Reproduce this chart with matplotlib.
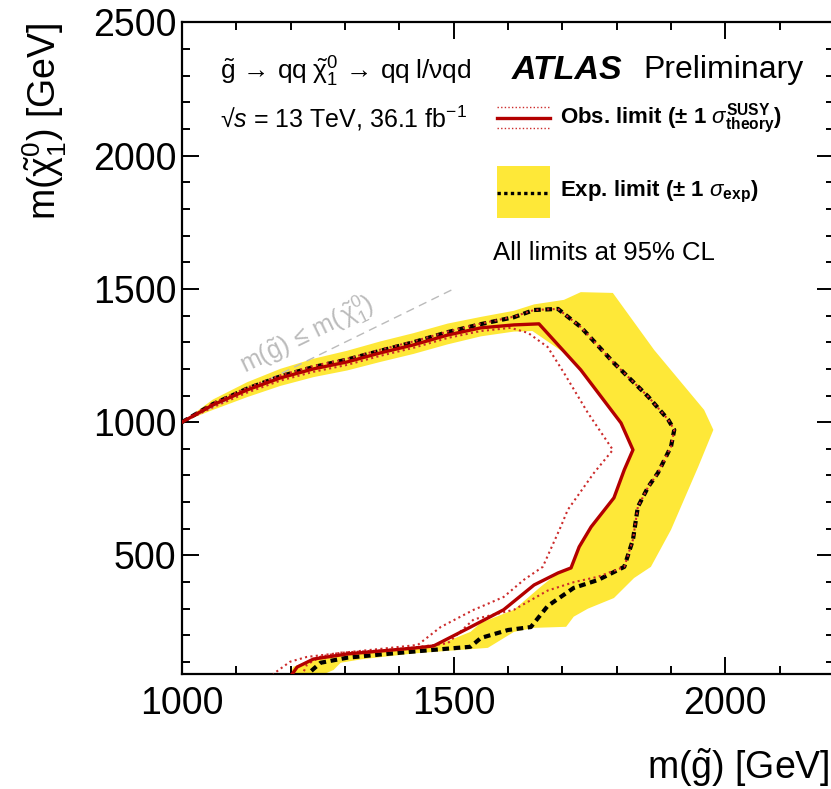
import matplotlib
matplotlib.use("Agg")
import matplotlib.pyplot as plt
from matplotlib.ticker import MultipleLocator

plt.rcParams['font.family'] = ['Liberation Sans', 'DejaVu Sans']
plt.rcParams['mathtext.fontset'] = 'custom'
plt.rcParams['mathtext.rm'] = 'Liberation Sans'
plt.rcParams['mathtext.it'] = 'Liberation Sans:italic'
plt.rcParams['mathtext.bf'] = 'Liberation Sans:bold'

# observed limit (gluino mass, neutralino mass) [GeV]
obs_x = [1000, 1057, 1120, 1181, 1242, 1304, 1365, 1426, 1489, 1550, 1611, 1657, 1734, 1808, 1830,
         1814, 1795, 1753, 1731, 1716, 1692, 1648, 1592, 1531, 1463, 1426, 1365, 1304, 1242, 1212, 1203]
obs_y = [1000, 1065, 1121, 1166, 1200, 1226, 1260, 1290, 1327, 1354, 1365, 1369, 1196, 997, 896,
         821, 716, 607, 532, 453, 434, 389, 296, 231, 160, 152, 141, 130, 111, 81, 55]

# observed -1 sigma theory (inner dotted)
obs_lo_x = [1000, 1057, 1120, 1181, 1242, 1304, 1365, 1426, 1489, 1550, 1605, 1637, 1673, 1703, 1747,
            1793, 1758, 1710, 1697, 1664, 1629, 1592, 1550, 1537, 1476, 1434, 1365, 1292, 1230, 1199, 1168]
obs_lo_y = [1000, 1056, 1111, 1156, 1189, 1215, 1249, 1279, 1316, 1342, 1354, 1335, 1282, 1185, 1035,
            896, 809, 671, 607, 457, 408, 344, 307, 296, 231, 164, 149, 134, 119, 101, 55]

# observed +1 sigma theory (outer dotted)
obs_hi_x = [1000, 1057, 1120, 1181, 1242, 1304, 1365, 1426, 1489, 1550, 1611, 1648, 1692, 1734, 1795,
            1858, 1895, 1906, 1900, 1876, 1858, 1839, 1830, 1814, 1766, 1722, 1673, 1611, 1537,
            1489, 1426, 1365, 1292, 1255, 1230, 1222]
obs_hi_y = [1000, 1072, 1130, 1176, 1211, 1238, 1272, 1303, 1340, 1370, 1396, 1421, 1425, 1357, 1222,
            1096, 1009, 971, 908, 810, 757, 682, 559, 457, 420, 400, 368, 296, 260,
            170, 154, 143, 135, 120, 90, 55]

# expected limit (dashed)
exp_x = [1000, 1057, 1120, 1181, 1242, 1304, 1365, 1426, 1489, 1550, 1611, 1648, 1692, 1734, 1795,
         1858, 1895, 1906, 1900, 1876, 1858, 1839, 1830, 1814, 1766, 1721, 1673, 1642, 1600, 1550,
         1531, 1489, 1426, 1365, 1304, 1255, 1236, 1232]
exp_y = [1000, 1068, 1126, 1172, 1207, 1235, 1268, 1300, 1338, 1368, 1394, 1421, 1425, 1357, 1222,
         1096, 1009, 971, 908, 810, 757, 682, 559, 457, 408, 378, 310, 231, 220, 190,
         157, 150, 139, 128, 116, 97, 63, 55]

# expected +/- 1 sigma band edges
band_out_x = [1000, 1057, 1120, 1181, 1242, 1304, 1365, 1426, 1489, 1550, 1611, 1648, 1703, 1734, 1793,
              1869, 1961, 1978, 1950, 1900, 1863, 1832, 1795, 1747, 1721, 1707, 1648, 1611, 1563,
              1426, 1330, 1292, 1279, 1262]
band_out_y = [1000, 1085, 1150, 1200, 1238, 1268, 1303, 1334, 1370, 1395, 1418, 1442, 1459, 1488, 1485,
              1271, 1046, 971, 832, 596, 457, 415, 340, 300, 270, 232, 228, 213, 153,
              132, 110, 97, 70, 55]
band_in_x = [1000, 1057, 1120, 1181, 1242, 1304, 1365, 1426, 1489, 1550, 1611, 1645, 1700, 1734, 1808,
             1830, 1814, 1795, 1753, 1731, 1716, 1692, 1660, 1611, 1550, 1531, 1463, 1426, 1365,
             1304, 1242, 1205, 1198]
band_in_y = [1000, 1046, 1094, 1136, 1169, 1194, 1226, 1256, 1292, 1322, 1340, 1342, 1265, 1196, 997,
             896, 821, 716, 607, 532, 453, 434, 382, 296, 247, 213, 157, 150, 140,
             128, 110, 82, 55]

diag_x = [1000, 1500]

red = '#b30000'
red_dot = '#cc2b2b'
yellow = '#fee838'

fig = plt.figure(figsize=(8.31, 7.89), dpi=100)
ax = fig.add_axes([0.219, 0.1458, 0.7846, 0.8257])

# band and limit lines
ax.fill(band_out_x + band_in_x[::-1], band_out_y + band_in_y[::-1], color=yellow, lw=0, zorder=1)
ax.plot(diag_x, diag_x, color='#bbbbbb', lw=1.0, ls=(0, (6, 4)), zorder=2)
ax.plot(exp_x, exp_y, color='black', lw=3.0, ls=(0, (1.6, 1.1)), zorder=3)
ax.plot(obs_lo_x, obs_lo_y, color=red_dot, lw=1.5, ls=(0, (1, 1.6)), zorder=4)
ax.plot(obs_hi_x, obs_hi_y, color=red_dot, lw=1.5, ls=(0, (1, 1.6)), zorder=4)
ax.plot(obs_x, obs_y, color=red, lw=2.4, zorder=5)

ax.text(1243, 1272, r'$\mathrm{m(\tilde{g})\,\leq\,m(\,\tilde{\chi}^{0}_{1})}$', color='#bbbbbb',
        fontsize=18, rotation=26, ha='center', va='bottom', rotation_mode='anchor')

ax.set_xlim(1000, 2200)
ax.set_ylim(55, 2500)
ax.xaxis.set_major_locator(MultipleLocator(500))
ax.xaxis.set_minor_locator(MultipleLocator(100))
ax.yaxis.set_major_locator(MultipleLocator(500))
ax.yaxis.set_minor_locator(MultipleLocator(100))
ax.tick_params(which='both', direction='in', top=True, right=True, width=1.4)
ax.tick_params(which='major', length=12, labelsize=27)
ax.tick_params(axis='x', which='major', pad=9)
ax.tick_params(axis='y', which='major', pad=4)
ax.tick_params(which='minor', length=6)
for s in ax.spines.values():
    s.set_linewidth(1.6)

# legend, drawn by hand
ax.plot([0.483, 0.564], [0.853, 0.853], transform=ax.transAxes, color=red, lw=2.4)
ax.plot([0.483, 0.564], [0.870, 0.870], transform=ax.transAxes, color=red_dot, lw=1.0, ls=(0, (1, 1.6)))
ax.plot([0.483, 0.564], [0.838, 0.838], transform=ax.transAxes, color=red_dot, lw=1.0, ls=(0, (1, 1.6)))
ax.fill([0.483, 0.564, 0.564, 0.483], [0.700, 0.700, 0.780, 0.780], transform=ax.transAxes, color=yellow, lw=0)
ax.plot([0.483, 0.564], [0.738, 0.738], transform=ax.transAxes, color='black', lw=2.4, ls=(0, (1, 1)))

fig.text(0.265, 0.909, r'$\mathrm{\tilde{g}\,\rightarrow\,qq\;\tilde{\chi}^{0}_{1}\,\rightarrow\,qq\;l/\nu qd}$',
         fontsize=19, ha='left', va='center')
fig.text(0.265, 0.850, r'√$\mathit{s}$ = 13 TeV, 36.1 fb$^{\mathrm{-1}}$', fontsize=18, ha='left', va='center')
fig.text(0.616, 0.911, 'ATLAS', fontsize=24.5, fontweight='bold', style='italic', ha='left', va='center')
fig.text(0.774, 0.911, 'Preliminary', fontsize=23, ha='left', va='center')
fig.text(0.674, 0.850, r'Obs. limit (± 1 $\sigma^{\mathbf{SUSY}}_{\mathbf{theory}}$)', fontsize=16,
         fontweight='bold', ha='left', va='center')
fig.text(0.674, 0.757, r'Exp. limit (± 1 $\sigma_{\mathbf{exp}}$)', fontsize=16,
         fontweight='bold', ha='left', va='center')
fig.text(0.593, 0.679, 'All limits at 95% CL', fontsize=18.5, ha='left', va='center')

fig.text(0.998, 0.027, r'm($\mathrm{\tilde{g}}$) [GeV]', fontsize=27, ha='right', va='center')
fig.text(0.054, 0.972, r'm($\mathrm{\tilde{\chi}^{0}_{1}}$) [GeV]', fontsize=27, ha='center', va='top', rotation=90)

fig.savefig('out.png', dpi=100)
